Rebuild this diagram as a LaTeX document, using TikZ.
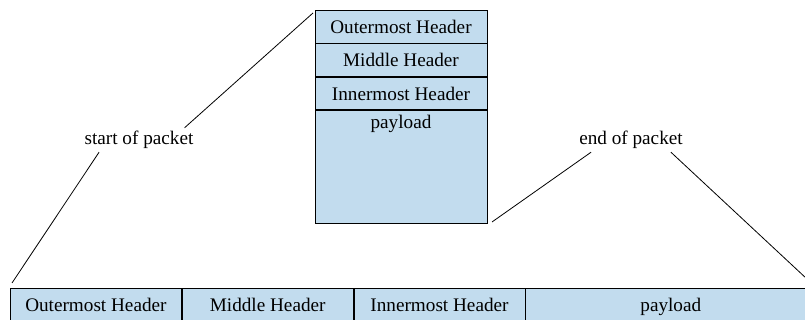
\documentclass[tikz,border=0pt]{standalone}
\usepackage{fontspec}
\setmainfont{Liberation Serif}
\usetikzlibrary{positioning}
\definecolor{hdrblue}{RGB}{194,220,238}
\begin{document}
\begin{tikzpicture}[x=0.5pt, y=0.5pt, font=\fontsize{9.6}{11}\selectfont,
    field/.style={rectangle, draw, fill=hdrblue, inner sep=2pt},
    stackfield/.style={field, minimum width=86pt, minimum height=16.3pt},
    rowfield/.style={field, minimum width=85.5pt, minimum height=19pt,
      text height=6.7pt, text depth=2.1pt},
    tag/.style={inner sep=1.5pt}]
  \clip (0,0) rectangle (805,320);
  % encapsulated packet, stacked
  \node[stackfield, anchor=north] (so) at (401,310) {Outermost Header};
  \node[stackfield, below=0pt of so] (sm) {Middle Header};
  \node[stackfield, below=0pt of sm] (si) {Innermost Header};
  \node[stackfield, below=0pt of si, text height=7pt, text depth=45.5pt] (sp) {payload};
  % same packet, laid out in a row
  \node[rowfield, anchor=north west] (ro) at (10,32) {Outermost Header};
  \node[rowfield, right=0pt of ro] (rm) {Middle Header};
  \node[rowfield, right=0pt of rm] (ri) {Innermost Header};
  \node[rowfield, right=0pt of ri, minimum width=145pt] (rp) {payload};
  \node[tag] (startlbl) at (139,180) {start of packet};
  \node[tag] (endlbl) at (631,180) {end of packet};
  \coordinate (stacktop) at (313,307);
  \coordinate (rowstart) at (12,37);
  \coordinate (stackbot) at (492,98);
  \coordinate (rowend) at (807,41);
  \draw (startlbl.15) -- (stacktop);
  \draw (startlbl.197) -- (rowstart);
  \draw (endlbl.197) -- (stackbot);
  \draw (endlbl.343) -- (rowend);
\end{tikzpicture}
\end{document}
